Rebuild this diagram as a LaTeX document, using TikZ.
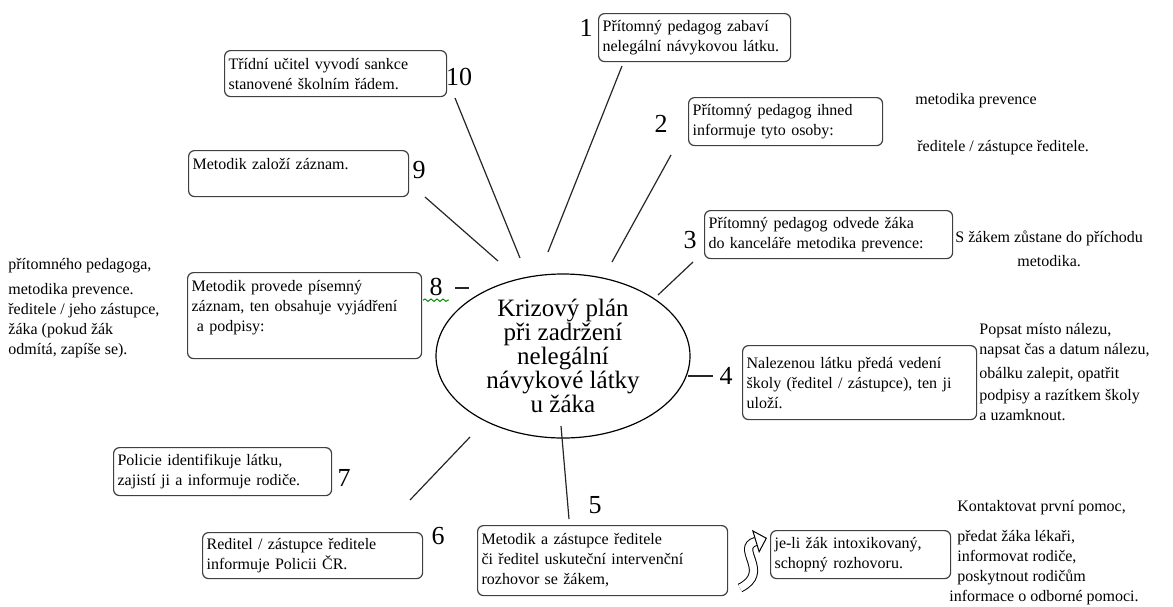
\documentclass[tikz,border=0pt]{standalone}
\usepackage{fontspec}
\setmainfont{Liberation Serif}
\usetikzlibrary{arrows.meta,shapes.geometric,decorations.pathmorphing}

\begin{document}
\begin{tikzpicture}[x=0.5pt, y=-0.5pt, >=Latex]
\tikzstyle{box}=[draw=black!75, line width=0.6pt, rounded corners=3pt, anchor=north west,
                 inner sep=2pt, align=left, font=\fontsize{8}{10}\selectfont]
\tikzstyle{side}=[anchor=north west, inner sep=0pt, align=left, font=\fontsize{8}{10}\selectfont]
\tikzstyle{num}=[inner sep=0pt, font=\fontsize{13}{13}\selectfont]
\tikzstyle{spoke}=[line width=0.6pt, black!85]

\useasboundingbox (0,0) rectangle (1173,606);

\node[draw, ellipse, line width=0.6pt, minimum width=127pt, minimum height=82pt, inner sep=0pt,
      align=center, font=\fontsize{12.5}{12}\selectfont] (hub) at (563,356)
  {Krizový plán\\ při zadržení\\ nelegální\\ návykové látky\\ u žáka};

\node[box, text width=92pt, minimum height=24pt] (b1) at (598,13)
  {Přítomný pedagog zabaví\\ nelegální návykovou látku.};
\node[box, text width=107pt, minimum height=23pt] (b10) at (224,50)
  {Třídní učitel vyvodí sankce\\ stanovené školním řádem.};
\node[box, text width=93pt, minimum height=24pt] (b2) at (688,97)
  {Přítomný pedagog ihned\\ informuje tyto osoby:};
\node[box, text width=106pt, minimum height=23pt] (b9) at (188,150)
  {Metodik založí záznam.\\ ~};
\node[box, text width=120pt, minimum height=24pt] (b3) at (704,210)
  {Přítomný pedagog odvede žáka\\ do kanceláře metodika prevence:};
\node[box, text width=113pt, minimum height=43pt] (b8) at (187,272)
  {Metodik provede písemný\\ záznam, ten obsahuje vyjádření\\ \ a podpisy:\\ ~};
\node[box, text width=113pt, minimum height=37pt] (b4) at (742,345)
  {Nalezenou látku předá vedení\\ školy (ředitel / zástupce), ten ji\\ uloží.};
\node[box, text width=105pt, minimum height=24pt] (b7) at (113,447)
  {Policie identifikuje látku,\\ zajistí ji a informuje rodiče.};
\node[box, text width=106pt, minimum height=23pt] (b6) at (202,532)
  {Reditel / zástupce ředitele\\ informuje Policii ČR.};
\node[box, text width=121pt, minimum height=35pt] (b5) at (477,525)
  {Metodik a zástupce ředitele\\ či ředitel uskuteční intervenční\\ rozhovor se žákem,};
\node[box, text width=86pt, minimum height=24pt] (bi) at (770,530)
  {je-li žák intoxikovaný,\\ schopný rozhovoru.};

\node[side] (p2a) at (915,93) {metodika prevence};
\node[side] (p2b) at (917,140) {ředitele / zástupce ředitele.};
\node[side, align=center, font=\fontsize{8}{12}\selectfont] (p3) at (955,231)
  {S žákem zůstane do příchodu\\ metodika.};
\node[side] (p8) at (8,258)
  {přítomného pedagoga,\\[2.5pt] metodika prevence.\\ ředitele / jeho zástupce,\\ žáka (pokud žák\\ odmítá, zapíše se).};
\node[side] (p4) at (979,323)
  {Popsat místo nálezu,\\ napsat čas a datum nálezu,\\[2pt] obálku zalepit, opatřit\\[1pt] podpisy a razítkem školy\\ a uzamknout.};
\node[side] (p5) at (957,500)
  {Kontaktovat první pomoc,\\[5pt] předat žáka lékaři,\\ informovat rodiče,\\ poskytnout rodičům\\ \hspace*{-4pt}informace o odborné pomoci.};

\foreach \n/\x/\y in {1/586/28, 10/459/77, 2/661/124, 9/419/170, 3/690/240,
                      8/436/287, 4/726/376, 7/344/478, 6/438/536, 5/595/505}
  \node[num] (n\n) at (\x,\y) {\n};

\foreach \n/\ax/\ay/\bx/\by in {1/622/66/548/252, 10/455/98/520/258, 2/671/155/612/262,
                                9/425/197/498/261, 3/693/262/658/295, 8/455/288/469/288,
                                4/688/376/713/376, 7/470/437/410/500, 5/561/426/569/519} {
  \coordinate (s\n a) at (\ax,\ay);
  \coordinate (s\n b) at (\bx,\by);
  \draw[spoke] (s\n a) -- (s\n b);
}

\draw[green!55!black, line width=0.5pt, decorate, decoration={snake, amplitude=0.6pt, segment length=3pt}]
  ([xshift=-3pt, yshift=-2pt]n8.south west) -- ([xshift=3pt, yshift=-2pt]n8.south east);

\coordinate (c1) at (740,588);
\coordinate (c2) at (767,538);
\draw[line width=0.5pt, double=white, double distance=3.6pt,
      -{Triangle[length=6pt, width=12pt, fill=white]}]
  (c1) .. controls (772,572) and (734,548) .. (c2);

\end{tikzpicture}
\end{document}
